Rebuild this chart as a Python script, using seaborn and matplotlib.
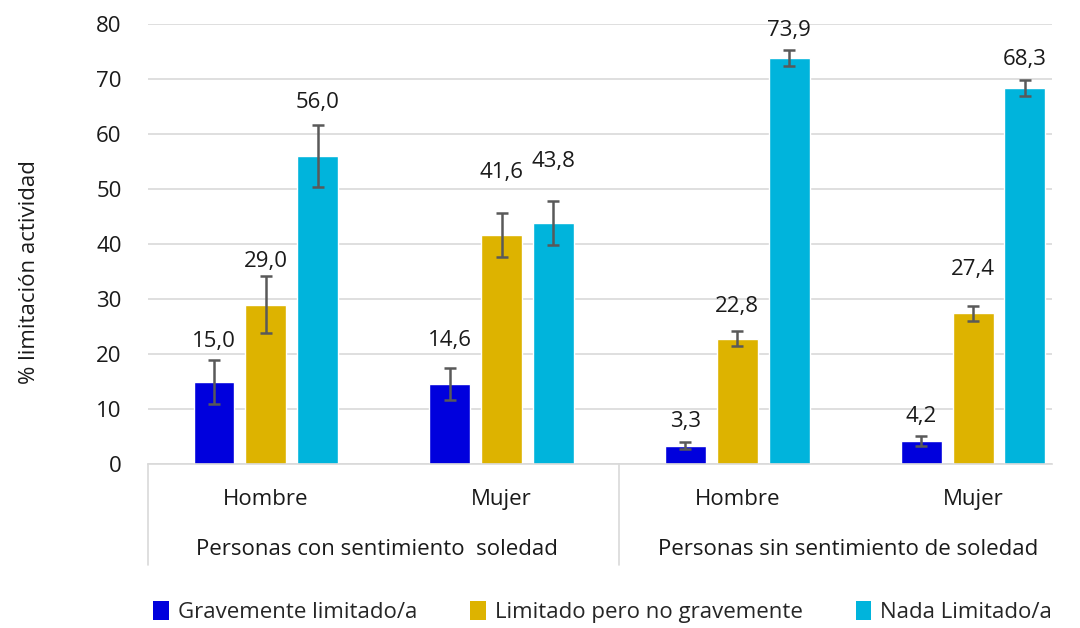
import pandas as pd
import seaborn as sns
import matplotlib.pyplot as plt
import matplotlib.transforms as mtransforms
from matplotlib.patches import Patch

# data
grupos = ['Personas con sentimiento  soledad', 'Personas sin sentimiento de soledad']
sexos = ['Hombre', 'Mujer', 'Hombre', 'Mujer']
niveles = ['Gravemente limitado/a', 'Limitado pero no gravemente', 'Nada Limitado/a']
grave = [15.0, 14.6, 3.3, 4.2]
limitado = [29.0, 41.6, 22.8, 27.4]
nada = [56.0, 43.8, 73.9, 68.3]
err_grave = [4.0, 2.9, 0.65, 0.9]
err_limitado = [5.1, 4.0, 1.4, 1.4]
err_nada = [5.6, 4.0, 1.45, 1.45]

colores = ['#0000DD', '#DDB300', '#00B4DC']
# extra gap (px) between error bar top and label, per level then category
label_pad = [[7, 17, 10, 9], [4, 30, 14, 26], [12, 29, 9, 10]]
fs = 16

claves = [f'{g}-{s}' for g, s in zip([0, 0, 1, 1], sexos)]
rows = []
for nivel, vals, errs in zip(niveles, [grave, limitado, nada],
                             [err_grave, err_limitado, err_nada]):
    for k, v, e in zip(claves, vals, errs):
        rows.append({'cat': k, 'nivel': nivel, 'valor': v, 'err': e})
df = pd.DataFrame(rows)

sns.set_style('white')
plt.rcParams['font.family'] = ['Open Sans', 'DejaVu Sans']

fig = plt.figure(figsize=(10.8, 6.28), dpi=100)
ax = fig.add_axes([148 / 1080, 1 - 464 / 628, 904 / 1080, 440 / 628])

sns.barplot(data=df, x='cat', y='valor', hue='nivel', order=claves,
            hue_order=niveles, palette=colores, width=0.66, gap=0.21,
            errorbar=None, legend=False, ax=ax, saturation=1)

px = 80 / 440  # data units per pixel
for i, (nivel, cont) in enumerate(zip(niveles, ax.containers)):
    sub = df[df['nivel'] == nivel].set_index('cat').loc[claves]
    for j, bar in enumerate(cont):
        xc = bar.get_x() + bar.get_width() / 2
        v = sub['valor'].iloc[j]
        e = sub['err'].iloc[j]
        ax.errorbar(xc, v, yerr=e, fmt='none', ecolor='#595959',
                    elinewidth=1.8, capsize=4, capthick=1.8, zorder=3)
        ax.text(xc, v + e + label_pad[i][j] * px, f'{v:.1f}'.replace('.', ','),
                ha='center', va='bottom', fontsize=fs, color='#1a1a1a')

ax.set_ylim(0, 80)
ax.set_xlim(-0.5, 3.335)
ax.set_yticks(range(0, 81, 10))
ax.yaxis.grid(True, color='#D9D9D9', linewidth=1.2)
ax.set_axisbelow(True)
for s in ['top', 'right', 'left']:
    ax.spines[s].set_visible(False)
ax.spines['bottom'].set_color('#D9D9D9')
ax.spines['bottom'].set_linewidth(1.2)
ax.tick_params(axis='y', length=0, pad=19, labelsize=fs, labelcolor='#1a1a1a')
ax.set_xticks([])
ax.set_xlabel('')
ax.set_ylabel('% limitación actividad', fontsize=fs, color='#1a1a1a')
ax.yaxis.set_label_coords(-0.12, 0.436)

trans = mtransforms.blended_transform_factory(ax.transData, ax.transAxes)
for i, s in enumerate(sexos):
    ax.text(i, -0.08, s, transform=trans, ha='center', va='center',
            fontsize=fs, color='#1a1a1a')
for g, nombre in enumerate(grupos):
    ax.text(2 * g + 0.47, -0.195, nombre, transform=trans, ha='center',
            va='center', fontsize=fs, color='#1a1a1a')
for xs in [-0.5, 1.5, 3.5]:
    ax.plot([xs, xs], [0, -0.23], transform=trans, color='#D9D9D9',
            linewidth=1.2, clip_on=False)

handles = [Patch(facecolor=c, edgecolor='none') for c in colores]
fig.legend(handles, niveles, loc='center', bbox_to_anchor=(0.558, 1 - 612 / 628),
           ncol=3, frameon=False, fontsize=fs, handlelength=0.7,
           handleheight=0.9, handletextpad=0.4, columnspacing=2.4)

fig.savefig('out.png', dpi=100)
